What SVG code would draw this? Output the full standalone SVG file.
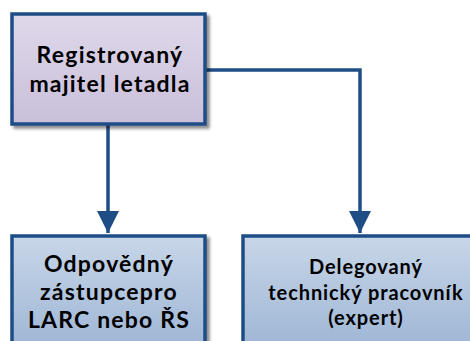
<svg xmlns="http://www.w3.org/2000/svg" width="470" height="341" viewBox="0 0 470 341">
  <defs>
    <linearGradient id="gTop" x1="0" y1="0" x2="0" y2="1">
      <stop offset="0" stop-color="#DFD8EA"/>
      <stop offset="1" stop-color="#C9BFDA"/>
    </linearGradient>
    <linearGradient id="gBlue" x1="0" y1="0" x2="0" y2="1">
      <stop offset="0" stop-color="#C8D6E8"/>
      <stop offset="1" stop-color="#9BB4D4"/>
    </linearGradient>
    <filter id="shadow" x="-10%" y="-10%" width="130%" height="130%">
      <feGaussianBlur in="SourceAlpha" stdDeviation="1.5"/>
      <feOffset dx="3" dy="3" result="b"/>
      <feFlood flood-color="#000" flood-opacity="0.45"/>
      <feComposite in2="b" operator="in"/>
      <feMerge><feMergeNode/><feMergeNode in="SourceGraphic"/></feMerge>
    </filter>
    <marker id="arrow" viewBox="0 0 22 22" refX="22" refY="11" markerWidth="22" markerHeight="22" markerUnits="userSpaceOnUse" orient="auto">
      <path d="M0,0 L22,11 L0,22 Z" fill="#1F4E86"/>
    </marker>
  </defs>
  <style>
    .box { stroke: #1F4E86; stroke-width: 3.5; filter: url(#shadow); }
    .lbl { font-family: Lato, "Open Sans", sans-serif; font-weight: bold; fill: #000; text-anchor: middle; }
    .big { font-size: 23px; letter-spacing: 1.2px; }
    .small { font-size: 20px; letter-spacing: 0.9px; }
    .conn { fill: none; stroke: #1F4E86; stroke-width: 3.5; }
  </style>

  <g id="connectors">
    <path class="conn" d="M108,124 V233" marker-end="url(#arrow)"/>
    <path class="conn" d="M205,70 H360 V233" marker-end="url(#arrow)"/>
  </g>

  <g id="owner">
    <rect class="box" x="12" y="14" width="193" height="110" fill="url(#gTop)"/>
    <text class="lbl big" x="110" y="63">Registrovaný</text>
    <text class="lbl big" x="110" y="92">majitel letadla</text>
  </g>

  <g id="representative">
    <rect class="box" x="12" y="236" width="193" height="120" fill="url(#gBlue)"/>
    <text class="lbl big" x="109" y="272">Odpovědný</text>
    <text class="lbl big" x="109" y="300">zástupcepro</text>
    <text class="lbl big" x="109" y="328">LARC nebo ŘS</text>
  </g>

  <g id="expert">
    <rect class="box" x="243" y="236" width="240" height="120" fill="url(#gBlue)"/>
    <text class="lbl small" x="366" y="274">Delegovaný</text>
    <text class="lbl small" x="366" y="300">technický pracovník</text>
    <text class="lbl small" x="366" y="325">(expert)</text>
  </g>
</svg>
